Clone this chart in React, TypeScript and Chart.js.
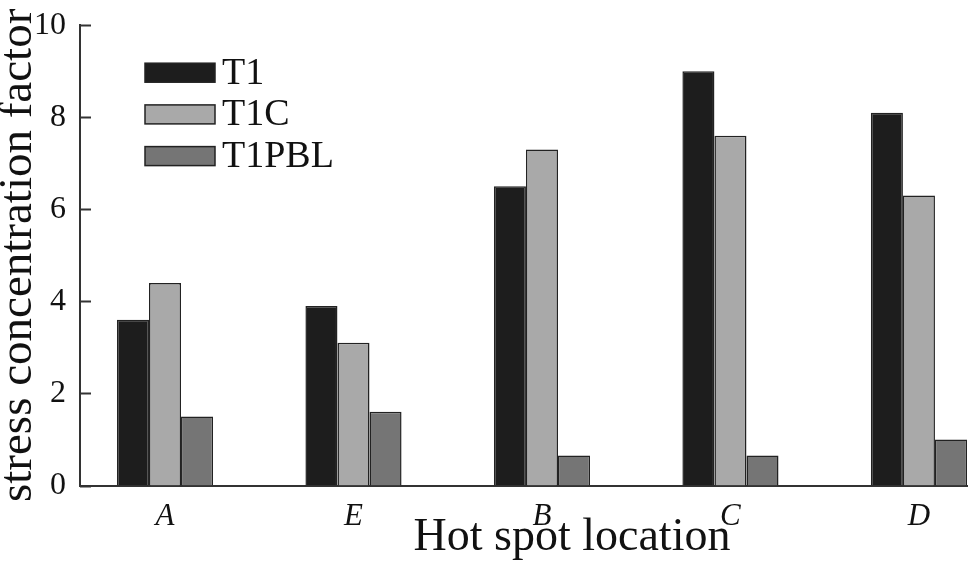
import React, { useEffect, useRef } from "react";
import { Chart, registerables } from "chart.js";

Chart.register(...registerables);

const categories = ["A", "E", "B", "C", "D"];
const seriesNames = ["T1", "T1C", "T1PBL"];
const t1Values = [3.6, 3.9, 6.5, 9.0, 8.1];
const t1cValues = [4.4, 3.1, 7.3, 7.6, 6.3];
const t1pblValues = [1.5, 1.6, 0.65, 0.65, 1.0];
const seriesColors = ["#1d1d1d", "#a9a9a9", "#757575"];
const yTicks = [0, 2, 4, 6, 8, 10];

const SERIF = "'Liberation Serif', 'DejaVu Serif', serif";

const innerTicksPlugin = {
  id: "innerTicks",
  afterDraw(chart: any) {
    const { ctx, chartArea } = chart;
    const y = chart.scales.y;
    ctx.save();
    ctx.strokeStyle = "#333";
    ctx.lineWidth = 2;
    y.ticks.forEach((t: any) => {
      const py = Math.round(y.getPixelForValue(t.value)) + 0.5;
      ctx.beginPath();
      ctx.moveTo(chartArea.left, py);
      ctx.lineTo(chartArea.left + 11, py);
      ctx.stroke();
    });
    ctx.restore();
  },
};

const legendPlugin = {
  id: "insideLegend",
  afterDraw(chart: any) {
    const { ctx, chartArea } = chart;
    ctx.save();
    const x0 = chartArea.left + 65;
    const y0 = chartArea.top + 47.5;
    const step = 41.7;
    chart.data.datasets.forEach((ds: any, i: number) => {
      const cy = y0 + i * step;
      ctx.fillStyle = ds.backgroundColor;
      ctx.fillRect(x0, cy - 9.5, 70, 19);
      ctx.strokeStyle = "#222";
      ctx.lineWidth = 1.5;
      ctx.strokeRect(x0, cy - 9.5, 70, 19);
      ctx.fillStyle = "#111";
      ctx.font = `38px ${SERIF}`;
      ctx.textBaseline = "middle";
      ctx.textAlign = "left";
      ctx.fillText(ds.label, x0 + 77, cy + 1);
    });
    ctx.restore();
  },
};

const xTitlePlugin = {
  id: "xTitle",
  afterDraw(chart: any) {
    const { ctx, chartArea } = chart;
    ctx.save();
    ctx.fillStyle = "#111";
    ctx.font = `46px ${SERIF}`;
    ctx.textAlign = "center";
    ctx.textBaseline = "alphabetic";
    ctx.fillText("Hot spot location", chartArea.left + 492, chartArea.bottom + 64);
    ctx.restore();
  },
};

export default function App() {
  const ref = useRef<HTMLCanvasElement | null>(null);

  useEffect(() => {
    if (!ref.current) return;
    const allValues = [t1Values, t1cValues, t1pblValues];
    const chart = new Chart(ref.current, {
      type: "bar",
      data: {
        datasets: seriesNames.map((name, si) => ({
          label: name,
          data: allValues[si].map((v, i) => ({ x: i, y: v })),
          backgroundColor: seriesColors[si],
          borderColor: "#222",
          borderWidth: 1.5,
          categoryPercentage: 0.51,
          barPercentage: 1.0,
        })),
      },
      options: {
        responsive: false,
        animation: false,
        devicePixelRatio: 1,
        layout: { padding: { top: 24.5, right: 8, left: 0, bottom: 0 } },
        plugins: {
          legend: { display: false },
          tooltip: { enabled: false },
        },
        scales: {
          x: {
            type: "linear",
            offset: false,
            min: -0.451,
            max: 4.255,
            grid: { display: false },
            border: { display: true, color: "#333", width: 2 },
            afterBuildTicks: (scale: any) => {
              scale.ticks = categories.map((_, i) => ({ value: i }));
            },
            afterFit: (scale: any) => {
              scale.height = 83.5;
            },
            ticks: {
              autoSkip: false,
              maxRotation: 0,
              padding: 5,
              color: "#111",
              font: { family: SERIF, size: 31, style: "italic" },
              callback: (v: any) => categories[Math.round(Number(v))] ?? "",
            },
          },
          y: {
            min: 0,
            max: 10,
            grid: { display: false },
            border: { display: true, color: "#333", width: 2 },
            afterBuildTicks: (scale: any) => {
              scale.ticks = yTicks.map((v) => ({ value: v }));
            },
            afterFit: (scale: any) => {
              scale.width = 80;
            },
            ticks: {
              padding: 6,
              color: "#111",
              font: { family: SERIF, size: 32 },
            },
            title: {
              display: true,
              text: "stress concentration factor",
              color: "#111",
              padding: 0,
              font: { family: SERIF, size: 47, lineHeight: 0.8 },
            },
          },
        },
      },
      plugins: [innerTicksPlugin, legendPlugin, xTitlePlugin],
    } as any);
    return () => chart.destroy();
  }, []);

  return (
    <div style={{ position: "absolute", left: 0, top: 0, width: 975, height: 569, background: "#fff" }}>
      <canvas ref={ref} width={975} height={569} style={{ display: "block" }} />
    </div>
  );
}
